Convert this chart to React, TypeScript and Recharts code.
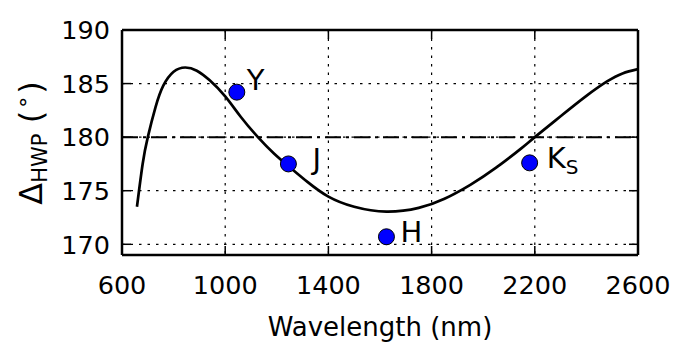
import React from 'react';
import { ComposedChart, Line, Scatter, XAxis, YAxis, CartesianGrid, ReferenceLine } from 'recharts';

// model retardance curve (nm, degrees)
const curveNm = [658, 680, 700, 730, 760, 800, 845, 890, 940, 1000, 1060, 1125, 1190, 1250, 1320, 1400, 1500, 1625, 1750, 1850, 1950, 2050, 2150, 2200, 2300, 2400, 2480, 2540, 2600];
const curveDeg = [173.5, 177.5, 180.0, 182.8, 184.8, 186.1, 186.5, 186.2, 185.3, 183.8, 181.9, 180.05, 178.45, 177.2, 175.8, 174.45, 173.5, 173.05, 173.4, 174.25, 175.55, 177.15, 179.0, 180.0, 181.95, 183.85, 185.2, 185.95, 186.35];

// measured bands
const bandNames = ['Y', 'J', 'H', 'Ks'];
const bandNm = [1045, 1245, 1625, 2180];
const bandDeg = [184.2, 177.5, 170.7, 177.6];

const xTicks = [600, 1000, 1400, 1800, 2200, 2600];
const yTicks = [170, 175, 180, 185, 190];

// label placement relative to each dot, in px
const labelDx = [10, 24, 14, 17];
const labelDy = [-2, 5, 5, 5];

const FONT = '"DejaVu Sans", sans-serif';
const PLOT = { left: 122, right: 638, top: 30, bottom: 255 };

const curveData = curveNm.map((nm, i) => ({ nm, deg: curveDeg[i] }));
const bandData = bandNm.map((nm, i) => ({ nm, deg: bandDeg[i], i }));

const XTick = (props: any) => {
  const { x, payload } = props;
  return (
    <g>
      <line x1={x} x2={x} y1={PLOT.bottom} y2={PLOT.bottom - 9} stroke="#000" strokeWidth={1.5} />
      <line x1={x} x2={x} y1={PLOT.top} y2={PLOT.top + 9} stroke="#000" strokeWidth={1.5} />
      <text x={x} y={293.5} textAnchor="middle" fontSize={25.5} fontFamily={FONT} fill="#000">
        {payload.value}
      </text>
    </g>
  );
};

const YTick = (props: any) => {
  const { y, payload } = props;
  return (
    <g>
      <line x1={PLOT.left} x2={PLOT.left + 9} y1={y} y2={y} stroke="#000" strokeWidth={1.5} />
      <line x1={PLOT.right} x2={PLOT.right - 9} y1={y} y2={y} stroke="#000" strokeWidth={1.5} />
      <text x={110} y={y + 9.3} textAnchor="end" fontSize={25.5} fontFamily={FONT} fill="#000">
        {payload.value}
      </text>
    </g>
  );
};

const BandDot = (props: any) => {
  const { cx, cy, payload } = props;
  const i = payload.i;
  const name = bandNames[i];
  return (
    <g>
      <circle cx={cx} cy={cy} r={8} fill="#0000ff" stroke="#000" strokeWidth={1} />
      <text x={cx + labelDx[i]} y={cy + labelDy[i]} fontSize={29} fontFamily={FONT} fill="#000">
        <tspan>{name[0]}</tspan>
        {name.length > 1 && (
          <tspan fontSize={20} dy={6}>
            {name.slice(1).toUpperCase()}
          </tspan>
        )}
      </text>
    </g>
  );
};

const XLabel = () => (
  <text x={380} y={336} textAnchor="middle" fontSize={26} fontFamily={FONT} fill="#000">
    Wavelength (nm)
  </text>
);

const YLabel = () => (
  <text
    x={42}
    y={143}
    transform="rotate(-90, 42, 143)"
    textAnchor="middle"
    fontSize={32}
    fontFamily={FONT}
    fill="#000"
  >
    <tspan>Δ</tspan>
    <tspan fontSize={21} dy={5}>HWP</tspan>
    <tspan dy={-5}> (</tspan>
    <tspan fontSize={22} dx={3} dy={-6}>°</tspan>
    <tspan dx={3} dy={6}>)</tspan>
  </text>
);

export default function App() {
  return (
    <div style={{ position: 'absolute', left: 0, top: 0, background: '#fff' }}>
      <ComposedChart width={689} height={348} margin={{ top: 30, right: 51, bottom: 0, left: 0 }}>
        <CartesianGrid stroke="#000" strokeWidth={1.2} strokeDasharray="2.5 6" />
        <XAxis
          dataKey="nm"
          type="number"
          domain={[600, 2600]}
          ticks={xTicks}
          interval={0}
          allowDataOverflow
          height={93}
          axisLine={{ stroke: '#000', strokeWidth: 2.5 }}
          tickLine={false}
          tickSize={0}
          tick={<XTick />}
          label={{ content: () => <XLabel /> }}
        />
        <YAxis
          type="number"
          domain={[169, 190]}
          ticks={yTicks}
          interval={0}
          allowDataOverflow
          width={122}
          axisLine={{ stroke: '#000', strokeWidth: 2.5 }}
          tickLine={false}
          tickSize={0}
          tick={<YTick />}
          label={{ content: () => <YLabel /> }}
        />
        <ReferenceLine y={180} stroke="#000" strokeWidth={2} strokeDasharray="16 5 3 5" />
        <ReferenceLine y={190} stroke="#000" strokeWidth={2.5} />
        <ReferenceLine x={2600} stroke="#000" strokeWidth={2.5} />
        <Line
          data={curveData}
          dataKey="deg"
          type="natural"
          stroke="#000"
          strokeWidth={2.7}
          dot={false}
          activeDot={false}
          isAnimationActive={false}
        />
        <Scatter data={bandData} dataKey="deg" shape={BandDot} isAnimationActive={false} />
      </ComposedChart>
    </div>
  );
}
